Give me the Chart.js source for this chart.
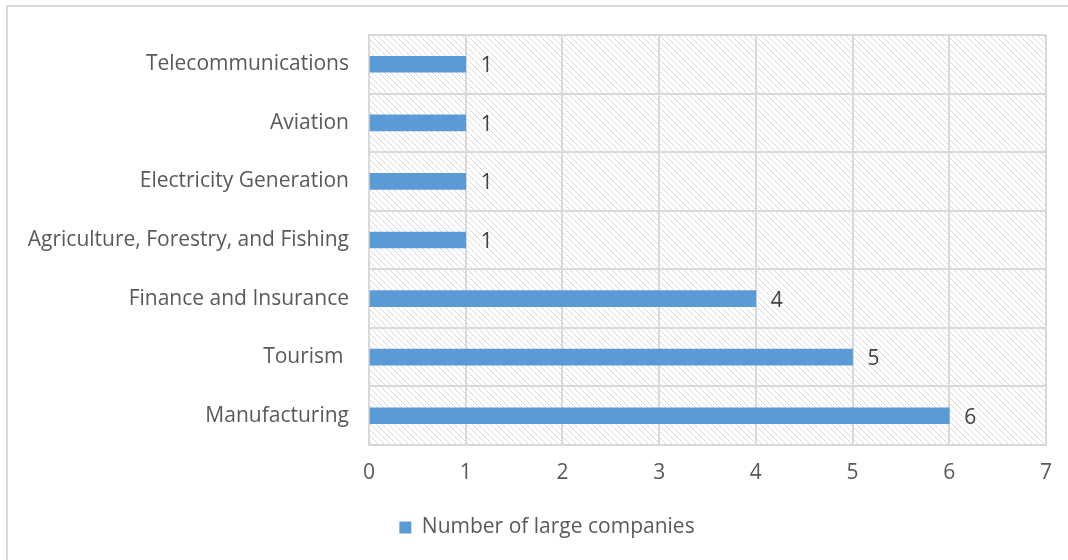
<!DOCTYPE html>
<html>
<head>
<meta charset="utf-8">
<script src="https://cdn.jsdelivr.net/npm/chart.js@4"></script>
<style>
  html, body { margin: 0; padding: 0; background: #fff; }
  #wrap { position: relative; width: 1068px; height: 560px; }
</style>
</head>
<body>
<div id="wrap"><canvas id="myChart" width="1068" height="560"></canvas></div>
<script>
const sectors = [
  'Telecommunications',
  'Aviation',
  'Electricity Generation',
  'Agriculture, Forestry, and Fishing',
  'Finance and Insurance',
  'Tourism ',
  'Manufacturing'
]
const companies = [1, 1, 1, 1, 4, 5, 6]
const xTicks = [0, 1, 2, 3, 4, 5, 6, 7]
const seriesName = 'Number of large companies'

const FONT = '"Open Sans", Lato, sans-serif'
const FSIZE = 21

// hatch tile for the plot background
function makeHatch (ctx) {
  const c = document.createElement('canvas')
  c.width = 6
  c.height = 6
  const g = c.getContext('2d')
  g.strokeStyle = '#d9d9d9'
  g.lineWidth = 1
  g.beginPath()
  g.moveTo(-1, -1); g.lineTo(7, 7)
  g.moveTo(-1, 5); g.lineTo(1, 7)
  g.moveTo(5, -1); g.lineTo(7, 1)
  g.stroke()
  return ctx.createPattern(c, 'repeat')
}

const frame = {
  id: 'frame',
  afterLayout (chart) {
    // legend sits a bit right of centre in the original
    chart.legend.left += 24
    chart.legend.right += 24
  },
  beforeDraw (chart) {
    const { ctx, chartArea: a } = chart
    ctx.save()
    ctx.fillStyle = makeHatch(ctx)
    ctx.fillRect(a.left, a.top, a.right - a.left, a.bottom - a.top)
    ctx.strokeStyle = '#d9d9d9'
    ctx.lineWidth = 2
    ctx.beginPath()
    ctx.moveTo(7, 600); ctx.lineTo(7, 6); ctx.lineTo(1100, 6)
    ctx.stroke()
    ctx.restore()
  }
}

const valueLabels = {
  id: 'valueLabels',
  afterDatasetsDraw (chart) {
    const { ctx } = chart
    const meta = chart.getDatasetMeta(0)
    ctx.save()
    ctx.font = FSIZE + 'px ' + FONT
    ctx.fillStyle = '#404040'
    ctx.textAlign = 'left'
    ctx.textBaseline = 'middle'
    meta.data.forEach((bar, i) => {
      ctx.fillText(String(companies[i]), bar.x + 15, bar.y + 2)
    })
    ctx.restore()
  }
}

const ctx = document.getElementById('myChart')
// eslint-disable-next-line no-unused-vars
const myChart = new Chart(ctx, {
  type: 'bar',
  data: {
    labels: sectors,
    datasets: [{
      label: seriesName,
      data: companies,
      backgroundColor: '#5b9bd5',
      borderWidth: 0,
      barThickness: 16
    }]
  },
  options: {
    indexAxis: 'y',
    responsive: false,
    animation: false,
    layout: { padding: { top: 35, right: 22, bottom: 12, left: 0 } },
    scales: {
      x: {
        min: 0,
        max: 7,
        afterBuildTicks: (axis) => { axis.ticks = xTicks.map(v => ({ value: v })) },
        afterFit: (axis) => { axis.height = 62 },
        grid: { color: '#d9d9d9', lineWidth: 2, drawTicks: false },
        border: { color: '#d9d9d9', width: 2 },
        ticks: { padding: 15, color: '#595959', font: { family: FONT, size: FSIZE } }
      },
      y: {
        afterFit: (axis) => { axis.width = 369 },
        grid: { color: '#d9d9d9', lineWidth: 2, drawTicks: false },
        border: { color: '#d9d9d9', width: 2 },
        ticks: { padding: 20, color: '#595959', font: { family: FONT, size: FSIZE } }
      }
    },
    plugins: {
      legend: {
        position: 'bottom',
        labels: {
          boxWidth: 12,
          boxHeight: 12,
          color: '#595959',
          font: { family: FONT, size: FSIZE }
        }
      },
      tooltip: { enabled: false }
    }
  },
  plugins: [frame, valueLabels]
})
</script>
</body>
</html>
